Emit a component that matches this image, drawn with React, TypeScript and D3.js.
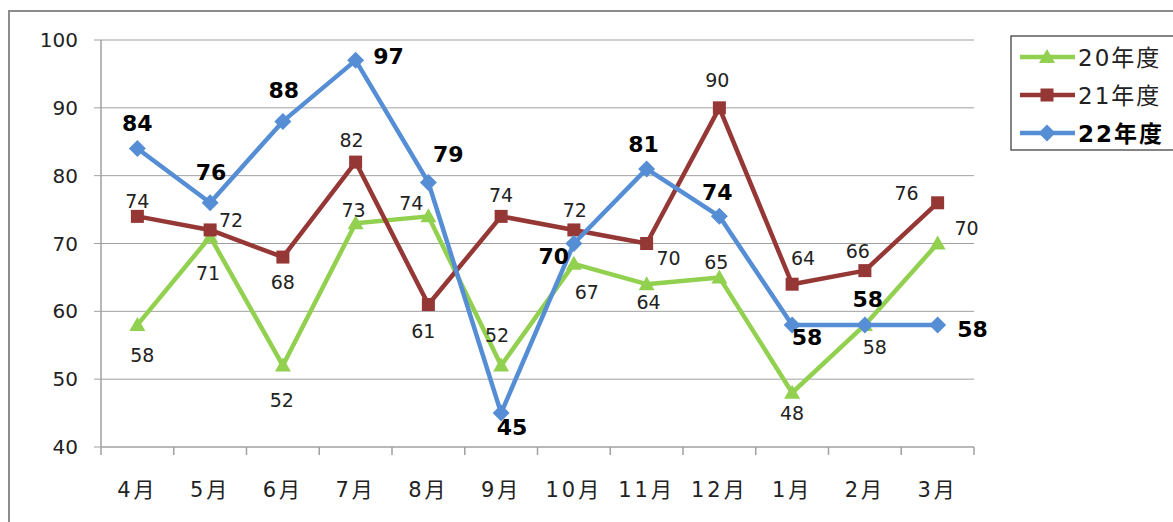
import React from "react";
import * as d3 from "d3";

const months = ["4月", "5月", "6月", "7月", "8月", "9月", "10月", "11月", "12月", "1月", "2月", "3月"];
const series20 = [58, 71, 52, 73, 74, 52, 67, 64, 65, 48, 58, 70];
const series21 = [74, 72, 68, 82, 61, 74, 72, 70, 90, 64, 66, 76];
const series22 = [84, 76, 88, 97, 79, 45, 70, 81, 74, 58, 58, 58];
const yTicks = [40, 50, 60, 70, 80, 90, 100];
const seriesNames = ["20年度", "21年度", "22年度"];

// label placement (presentation only): [dx, dy] offsets of label centre from point
const place20: [number, number][] = [[5, 30], [-2, 36], [-1, 34], [-2, -13], [-17, -13], [-4, -31], [13, 28], [2, 18], [-3, -15], [0, 20], [10, 22], [29, -16]];
const place21: [number, number][] = [[0, -15], [21, -10], [0, 25], [-4, -22], [-5, 26], [0, -21], [1, -20], [22, 14], [-2, -28], [11, -26], [-7, -20], [-31, -10]];
const place22: [number, number][] = [[0, -25], [1, -30], [1, -31], [33, -4], [20, -28], [11, 14], [-20, 13], [-3, -24], [-2, -24], [15, 13], [3, -25], [35, 5]];

const FONT = "'DejaVu Sans', 'Noto Sans CJK JP', sans-serif";

const W = 1173, H = 522;
const plotLeft = 101, plotRight = 974, plotTop = 40, plotBottom = 447;

const COL20 = "#92D050";
const COL21 = "#953735";
const COL22 = "#558ED5";

function Marker({ kind, x, y, color }: { kind: string; x: number; y: number; color: string }) {
  if (kind === "tri") {
    const s = 8;
    return <path d={`M${x},${y - s} L${x + s},${y + s * 0.75} L${x - s},${y + s * 0.75} Z`} fill={color} />;
  }
  if (kind === "sq") {
    const s = 6.5;
    return <rect x={x - s} y={y - s} width={2 * s} height={2 * s} fill={color} />;
  }
  const s = 8.5;
  return <path d={`M${x},${y - s} L${x + s},${y} L${x},${y + s} L${x - s},${y} Z`} fill={color} />;
}

export default function App() {
  const x = d3.scaleBand<string>().domain(months).range([plotLeft, plotRight]).padding(0);
  const y = d3.scaleLinear().domain([40, 100]).range([plotBottom, plotTop]);
  const cx = (m: string) => (x(m) as number) + x.bandwidth() / 2;

  const line = d3
    .line<number>()
    .x((_, i) => cx(months[i]))
    .y((d) => y(d));

  const seriesList = [
    { name: seriesNames[0], data: series20, color: COL20, marker: "tri", place: place20, bold: false },
    { name: seriesNames[1], data: series21, color: COL21, marker: "sq", place: place21, bold: false },
    { name: seriesNames[2], data: series22, color: COL22, marker: "dia", place: place22, bold: true },
  ];

  const boundaries = months.map((m) => x(m) as number).concat([plotRight]);

  return (
    <svg
      width={W}
      height={H}
      style={{ position: "absolute", left: 0, top: 0, background: "#fff" }}
      fontFamily={FONT}
    >
      {/* outer frame */}
      <rect x={9} y={11} width={1300} height={700} fill="none" stroke="#8c8c8c" strokeWidth={2} />

      {/* gridlines */}
      {yTicks.map((t) => (
        <g key={t}>
          {t !== 40 && (
            <line x1={plotLeft} x2={plotRight} y1={y(t)} y2={y(t)} stroke="#a0a0a0" strokeWidth={1} />
          )}
          <line x1={plotLeft - 7} x2={plotLeft} y1={y(t)} y2={y(t)} stroke="#a0a0a0" strokeWidth={1} />
          <text x={78} y={y(t)} textAnchor="end" dominantBaseline="central" fontSize={20} fill="#222">
            {t}
          </text>
        </g>
      ))}
      {/* axes */}
      <line x1={plotLeft} x2={plotLeft} y1={plotTop} y2={plotBottom} stroke="#a0a0a0" strokeWidth={1.5} />
      <line x1={plotLeft} x2={plotRight} y1={plotBottom} y2={plotBottom} stroke="#a0a0a0" strokeWidth={1.5} />
      {boundaries.map((b, i) => (
        <line key={i} x1={b} x2={b} y1={plotBottom} y2={plotBottom + 8} stroke="#a0a0a0" strokeWidth={1.5} />
      ))}
      {months.map((m) => (
        <text key={m} x={cx(m)} y={490} textAnchor="middle" dominantBaseline="central" fontSize={21} fill="#222" letterSpacing={3}>
          {m}
        </text>
      ))}

      {/* series lines */}
      {seriesList.map((s) => (
        <g key={s.name}>
          <path d={line(s.data) || ""} fill="none" stroke={s.color} strokeWidth={4.5} strokeLinejoin="round" />
          {s.data.map((v, i) => (
            <Marker key={i} kind={s.marker} x={cx(months[i])} y={y(v)} color={s.color} />
          ))}
        </g>
      ))}

      {/* data labels */}
      {seriesList.map((s) => (
        <g key={s.name + "lab"}>
          {s.data.map((v, i) => (
            <text
              key={i}
              x={cx(months[i]) + s.place[i][0]}
              y={y(v) + s.place[i][1]}
              textAnchor="middle"
              dominantBaseline="central"
              fontSize={s.bold ? 22 : 19}
              fontWeight={s.bold ? 700 : 400}
              fill={s.bold ? "#000" : "#222"}
            >
              {v}
            </text>
          ))}
        </g>
      ))}

      {/* legend */}
      <rect x={1011} y={36} width={200} height={114} fill="#fff" stroke="#333" strokeWidth={1.2} />
      {seriesList.map((s, i) => {
        const ly = 57 + i * 38;
        return (
          <g key={s.name + "leg"}>
            <line x1={1020} x2={1075} y1={ly} y2={ly} stroke={s.color} strokeWidth={4.5} />
            <Marker kind={s.marker} x={1047} y={ly} color={s.color} />
            <text
              x={1078}
              y={ly + 1}
              dominantBaseline="central"
              fontSize={23}
              fontWeight={s.bold ? 700 : 400}
              letterSpacing={2}
              fill={s.bold ? "#000" : "#222"}
            >
              {s.name}
            </text>
          </g>
        );
      })}
    </svg>
  );
}
